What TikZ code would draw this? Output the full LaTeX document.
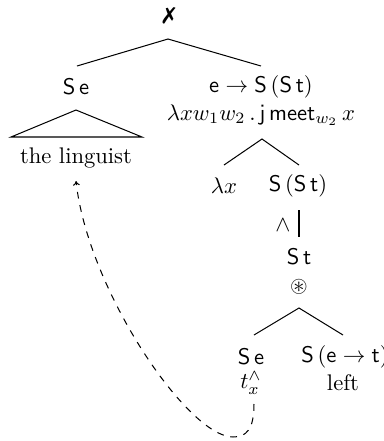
\documentclass[tikz,border=0pt]{standalone}
\usepackage{amssymb}
\usepackage{pifont}
\usetikzlibrary{arrows.meta}
\begin{document}
\begin{tikzpicture}[x=0.4425pt,y=-0.4425pt,
  lbl/.style={inner sep=0pt},
  edge/.style={line width=0.45pt},
  mv/.style={dashed,line width=0.45pt,-{To[length=2pt,width=3pt]}}]
\useasboundingbox (0,0) rectangle (384,441);
% labels
\node[lbl] (top) at (169,16) {\ding{55}};
\node[lbl] (se1) at (76,87) {$\mathsf{S\,e}$};
\node[lbl] (fn) at (261,87) {$\mathsf{e}\to\mathsf{S}\,(\mathsf{S\,t})$};
\node[lbl] (fnsem) at (261,115) {$\lambda x w_1 w_2\,.\,\mathsf{j}\,\mathsf{meet}_{w_2}\,x$};
\node[lbl] (ling) at (76,158) {the linguist};
\node[lbl] (lx) at (224,186) {$\lambda x$};
\node[lbl] (sst) at (298,186) {$\mathsf{S}\,(\mathsf{S\,t})$};
\node[lbl] (wedge) at (283,225) {$\wedge$};
\node[lbl] (st) at (299,257) {$\mathsf{S\,t}$};
\node[lbl] (oast) at (299,287) {$\circledast$};
\node[lbl] (se2) at (251,357) {$\mathsf{S\,e}$};
\node[lbl] (tx) at (251,383) {$t_x^{\wedge}$};
\node[lbl] (set) at (345,357) {$\mathsf{S}\,(\mathsf{e}\to\mathsf{t})$};
\node[lbl] (left) at (343,383) {left};
% branch points
\coordinate (a1) at (168,39);
\coordinate (b1) at (77,66);
\coordinate (c1) at (261,66);
\coordinate (ta) at (76,110);
\coordinate (tl) at (11,137);
\coordinate (tr) at (142,137);
\coordinate (a2) at (262,139);
\coordinate (b2) at (224,165);
\coordinate (c2) at (299,165);
\coordinate (v1) at (299,210);
\coordinate (v2) at (299,237);
\coordinate (a3) at (299,308);
\coordinate (b3) at (254,335);
\coordinate (c3) at (343,335);
\coordinate (mvs) at (254,404);
\coordinate (mvb) at (233,437);
\coordinate (mve) at (76,181);
% edges
\draw[edge] (b1) -- (a1) -- (c1);
\draw[edge] (ta) -- (tl) -- (tr) -- cycle;
\draw[edge] (b2) -- (a2) -- (c2);
\draw[edge] (v1) -- (v2);
\draw[edge] (b3) -- (a3) -- (c3);
% movement arrow
\draw[mv] (mvs) .. controls (254,430) and (246,437) .. (mvb)
  .. controls (188,437) and (88,290) .. (mve);
\end{tikzpicture}
\end{document}
